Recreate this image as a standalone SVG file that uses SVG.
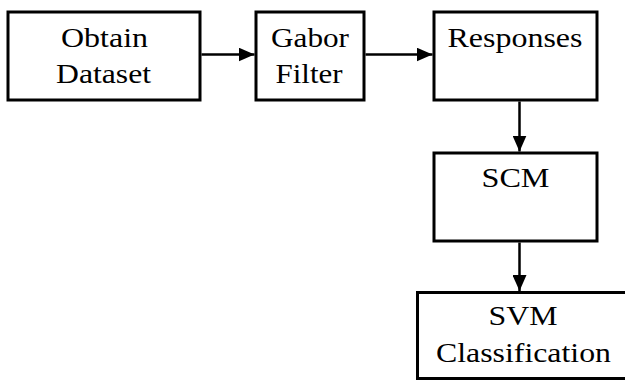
<svg xmlns="http://www.w3.org/2000/svg" width="625" height="381" viewBox="0 0 625 381">
  <style>
    .box { fill: #ffffff; stroke: #000000; stroke-width: 3; }
    .lbl { font-family: 'Liberation Serif', 'DejaVu Serif', serif; font-size: 28px; fill: #000000; text-anchor: middle; }
    .edge { stroke: #000000; stroke-width: 2.5; fill: none; marker-end: url(#head); }
  </style>
  <defs>
    <marker id="head" markerUnits="userSpaceOnUse" markerWidth="16" markerHeight="14" refX="16" refY="7" orient="auto">
      <path d="M0,0 L16,7 L0,14 Z" fill="#000000"/>
    </marker>
  </defs>
  <rect width="625" height="381" fill="#ffffff"/>

  <g id="obtain-dataset">
    <rect class="box" x="8" y="12" width="192" height="88"/>
    <text class="lbl" x="104.5" y="47" textLength="87" lengthAdjust="spacingAndGlyphs">Obtain</text>
    <text class="lbl" x="103.5" y="83" textLength="95" lengthAdjust="spacingAndGlyphs">Dataset</text>
  </g>

  <g id="gabor-filter">
    <rect class="box" x="256" y="12" width="108" height="88"/>
    <text class="lbl" x="310" y="47" textLength="78" lengthAdjust="spacingAndGlyphs">Gabor</text>
    <text class="lbl" x="309" y="83" textLength="67" lengthAdjust="spacingAndGlyphs">Filter</text>
  </g>

  <g id="responses">
    <rect class="box" x="434" y="12" width="163" height="88"/>
    <text class="lbl" x="515" y="47" textLength="135" lengthAdjust="spacingAndGlyphs">Responses</text>
  </g>

  <g id="scm">
    <rect class="box" x="434" y="153" width="163" height="88"/>
    <text class="lbl" x="515.5" y="187" textLength="68" lengthAdjust="spacingAndGlyphs">SCM</text>
  </g>

  <g id="svm-classification">
    <rect class="box" x="417.5" y="292.5" width="212" height="86"/>
    <text class="lbl" x="523" y="325" textLength="69" lengthAdjust="spacingAndGlyphs">SVM</text>
    <text class="lbl" x="523.5" y="362" textLength="175" lengthAdjust="spacingAndGlyphs">Classification</text>
  </g>

  <g id="connectors">
    <line class="edge" x1="201.5" y1="54.5" x2="254.5" y2="54.5"/>
    <line class="edge" x1="365.5" y1="54.5" x2="432.5" y2="54.5"/>
    <line class="edge" x1="519.5" y1="101.5" x2="519.5" y2="151.5"/>
    <line class="edge" x1="519.5" y1="242.5" x2="519.5" y2="291"/>
  </g>
</svg>
